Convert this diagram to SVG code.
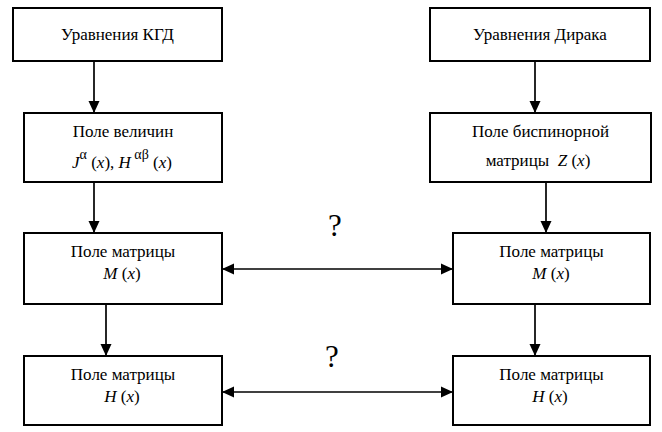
<svg xmlns="http://www.w3.org/2000/svg" width="662" height="432" viewBox="0 0 662 432">
<defs>
<style>
.box{fill:#fff;stroke:#000;stroke-width:2}
.t{font-family:"Liberation Serif","Times New Roman",serif;font-size:17px;fill:#000;text-anchor:middle}
.i{font-style:italic}
.sup{font-size:14px}
.q{font-family:"Liberation Serif","Times New Roman",serif;font-size:31px;fill:#000;text-anchor:middle}
.c{stroke:#000;stroke-width:1.7;fill:none}
</style>
<marker id="ah" viewBox="0 0 12 12" refX="12" refY="6" markerWidth="12" markerHeight="12" markerUnits="userSpaceOnUse" orient="auto-start-reverse">
<path d="M0,0.5 L12,6 L0,11.5 z" fill="#000"/>
</marker>
</defs>
<rect width="662" height="432" fill="#fff"/>

<g id="connectors">
<line class="c" x1="94" y1="61" x2="94" y2="113" marker-end="url(#ah)"/>
<line class="c" x1="535" y1="61" x2="535" y2="113" marker-end="url(#ah)"/>
<line class="c" x1="94" y1="182" x2="94" y2="233" marker-end="url(#ah)"/>
<line class="c" x1="546" y1="182" x2="546" y2="233" marker-end="url(#ah)"/>
<line class="c" x1="106" y1="304" x2="106" y2="356" marker-end="url(#ah)"/>
<line class="c" x1="535" y1="304" x2="535" y2="356" marker-end="url(#ah)"/>
<line class="c" x1="222" y1="269" x2="453" y2="269" marker-start="url(#ah)" marker-end="url(#ah)"/>
<line class="c" x1="222" y1="392" x2="453" y2="392" marker-start="url(#ah)" marker-end="url(#ah)"/>
<text class="q" x="335" y="236">?</text>
<text class="q" x="332" y="367">?</text>
</g>

<g id="kgd">
<rect class="box" x="13" y="8" width="209" height="53"/>
<text class="t" x="117.5" y="40">Уравнения КГД</text>
</g>

<g id="dirac">
<rect class="box" x="430" y="8" width="220" height="53"/>
<text class="t" x="540" y="40">Уравнения Дирака</text>
</g>

<g id="fields">
<rect class="box" x="24" y="113" width="198" height="69"/>
<text class="t" x="123" y="137">Поле величин</text>
<text class="t" x="122" y="168" xml:space="preserve"><tspan class="i">J</tspan><tspan class="sup" dy="-9">α</tspan><tspan dy="9"> (</tspan><tspan class="i">x</tspan>), <tspan class="i">H</tspan><tspan class="sup" dy="-9"> αβ</tspan><tspan dy="9"> (</tspan><tspan class="i">x</tspan>)</text>
</g>

<g id="bispinor">
<rect class="box" x="430" y="113" width="221" height="69"/>
<text class="t" x="540.5" y="137">Поле биспинорной</text>
<text class="t" x="538" y="166" xml:space="preserve">матрицы  <tspan class="i">Z</tspan> (<tspan class="i">x</tspan>)</text>
</g>

<g id="m-left">
<rect class="box" x="24" y="233" width="198" height="71"/>
<text class="t" x="123" y="257">Поле матрицы</text>
<text class="t" x="122" y="279"><tspan class="i">M</tspan> (<tspan class="i">x</tspan>)</text>
</g>

<g id="m-right">
<rect class="box" x="453" y="233" width="197" height="71"/>
<text class="t" x="551.5" y="257">Поле матрицы</text>
<text class="t" x="551" y="279"><tspan class="i">M</tspan> (<tspan class="i">x</tspan>)</text>
</g>

<g id="h-left">
<rect class="box" x="24" y="356" width="198" height="69"/>
<text class="t" x="123" y="380">Поле матрицы</text>
<text class="t" x="122" y="402"><tspan class="i">H</tspan> (<tspan class="i">x</tspan>)</text>
</g>

<g id="h-right">
<rect class="box" x="453" y="356" width="197" height="69"/>
<text class="t" x="551.5" y="380">Поле матрицы</text>
<text class="t" x="550" y="402"><tspan class="i">H</tspan> (<tspan class="i">x</tspan>)</text>
</g>
</svg>
